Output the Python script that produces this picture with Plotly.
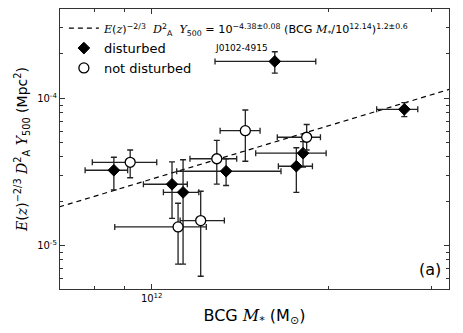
import math
import plotly.graph_objects as go

# BCG stellar mass (1e12 Msun) and E(z)^-2/3 D_A^2 Y500 (1e-5 Mpc^2)
dist_mass = [0.862, 1.083, 1.131, 1.339, 1.811, 1.764, 2.695, 1.621]
dist_mass_lo = [0.770, 0.968, 1.047, 1.103, 1.504, 1.644, 2.418, 1.282]
dist_mass_hi = [0.910, 1.150, 1.203, 1.661, 1.983, 1.879, 2.841, 1.904]
dist_y = [3.25, 2.61, 2.30, 3.20, 4.24, 3.46, 8.42, 17.8]
dist_y_lo = [2.39, 1.53, 0.75, 2.56, 3.42, 2.30, 7.50, 14.8]
dist_y_hi = [3.98, 3.70, 3.83, 3.88, 5.08, 4.62, 9.34, 20.7]

relax_mass = [0.919, 1.109, 1.212, 1.291, 1.444, 1.837]
relax_mass_lo = [0.792, 0.865, 1.118, 1.162, 1.308, 1.637]
relax_mass_hi = [1.020, 1.239, 1.330, 1.396, 1.530, 1.939]
relax_y = [3.68, 1.34, 1.48, 3.89, 6.03, 5.44]
relax_y_lo = [2.89, 0.75, 0.62, 2.62, 3.74, 4.46]
relax_y_hi = [4.46, 1.94, 2.34, 5.19, 8.33, 6.64]

# fit from the legend: log Y = -4.38 + 1.2 (log M - 12.14)
FIT_NORM = -4.38
FIT_PIVOT = 12.14
FIT_SLOPE = 1.2
fit_mass = [6.5e11, 3.5e12]

x_ticks = [1e12]
x_ticktext = ["10<sup>12</sup>"]
y_ticks = [1e-5, 1e-4]
y_ticktext = ["10<sup>-5</sup>", "10<sup>-4</sup>"]

SERIF = "font-family:DejaVu Serif"


def m(s):
    return f'<span style="{SERIF}"><i>{s}</i></span>'


def scale(v, f):
    return [a * f for a in v]


def errs(c, lo, hi, f):
    return (
        [(h - a) * f for a, h in zip(c, hi)],
        [(a - l) * f for a, l in zip(c, lo)],
    )


fit_y = [10 ** (FIT_NORM + FIT_SLOPE * (math.log10(x) - FIT_PIVOT)) for x in fit_mass]

fit_name = (
    '<span style="font-size:11.2px">'
    f"{m('E')}({m('z')})<sup>−2/3</sup>  {m('D')}<sup>2</sup><sub>A</sub>  "
    f"{m('Y')}<sub>500</sub> = 10<sup>−4.38±0.08</sup> "
    f"(BCG {m('M')}<sub>*</sub>/10<sup>12.14</sup>)<sup>1.2±0.6</sup>"
    "</span>"
)

fig = go.Figure()
fig.add_trace(go.Scatter(
    x=fit_mass, y=fit_y, mode="lines", name=fit_name,
    line=dict(color="black", width=1.2, dash="5px,4px"),
))

for name, c, clo, chi, y, ylo, yhi, marker in [
    ("disturbed", dist_mass, dist_mass_lo, dist_mass_hi, dist_y, dist_y_lo, dist_y_hi,
     dict(symbol="diamond", size=9, color="black", line=dict(color="black", width=1))),
    ("not disturbed", relax_mass, relax_mass_lo, relax_mass_hi, relax_y, relax_y_lo, relax_y_hi,
     dict(symbol="circle", size=10, color="white", line=dict(color="black", width=1.3))),
]:
    ex_p, ex_m = errs(c, clo, chi, 1e12)
    ey_p, ey_m = errs(y, ylo, yhi, 1e-5)
    fig.add_trace(go.Scatter(
        x=scale(c, 1e12), y=scale(y, 1e-5), mode="markers", name=name,
        marker=marker,
        error_x=dict(type="data", symmetric=False, array=ex_p, arrayminus=ex_m,
                     color="#222", thickness=1.3, width=3),
        error_y=dict(type="data", symmetric=False, array=ey_p, arrayminus=ey_m,
                     color="#222", thickness=1.3, width=3),
    ))

fig.add_annotation(x=math.log10(1.59e12), y=math.log10(1.96e-4), text="J0102-4915",
                   showarrow=False, xanchor="right", yanchor="bottom",
                   font=dict(size=9, color="black"))
fig.add_annotation(x=0.985, y=0.03, xref="paper", yref="paper", text="(a)",
                   showarrow=False, xanchor="right", yanchor="bottom",
                   font=dict(size=16, color="black"))

axis_common = dict(
    type="log", showgrid=False, zeroline=False, showline=True, mirror="ticks",
    linecolor="#333", linewidth=1.3, ticks="inside", ticklen=5, tickwidth=1,
    tickcolor="#333", tickfont=dict(size=10, color="black"),
)
fig.update_xaxes(
    **axis_common, range=[11.8437, 12.5067], tickvals=x_ticks, ticktext=x_ticktext,
    minor=dict(tickvals=[7e11, 8e11, 9e11, 2e12, 3e12], ticks="inside", ticklen=3,
               tickcolor="#333"),
    title=dict(text=f"BCG {m('M')}<sub>*</sub> (M<sub>⊙</sub>)", font=dict(size=16),
               standoff=6),
)
fig.update_yaxes(
    **axis_common, range=[-5.294, -3.394], tickvals=y_ticks, ticktext=y_ticktext,
    minor=dict(tickvals=[6e-6, 7e-6, 8e-6, 9e-6] + [k * 1e-5 for k in range(2, 10)]
               + [2e-4, 3e-4, 4e-4],
               ticks="inside", ticklen=3, tickcolor="#333"),
    title=dict(
        text=f"{m('E')}({m('z')})<sup>−2/3</sup> {m('D')}<sup>2</sup><sub>A</sub> "
             f"{m('Y')}<sub>500</sub> (Mpc<sup>2</sup>)",
        font=dict(size=14), standoff=6),
)

fig.update_layout(
    width=463, height=333,
    margin=dict(l=60, r=14, t=9, b=44, autoexpand=False),
    paper_bgcolor="white", plot_bgcolor="white",
    font=dict(family="DejaVu Sans", color="black"),
    legend=dict(x=0.01, y=0.985, xanchor="left", yanchor="top",
                bgcolor="rgba(0,0,0,0)", font=dict(size=13), tracegroupgap=0,
                itemwidth=30),
)
fig.write_html("out.html", config={"displayModeBar": False},
               post_script="document.body.style.margin='0';")
